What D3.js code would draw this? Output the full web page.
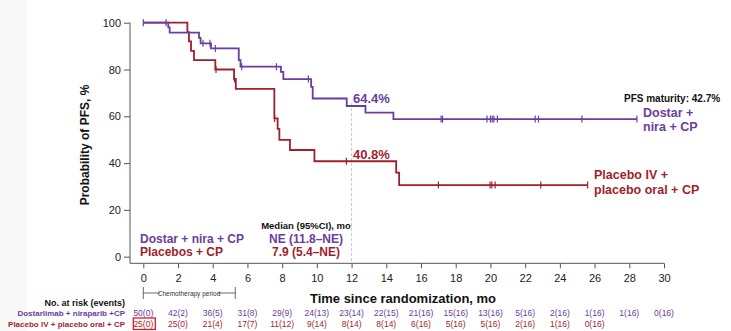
<!DOCTYPE html>
<html>
<head>
<meta charset="utf-8">
<script src="https://cdn.jsdelivr.net/npm/d3@7"></script>
<style>
  body { margin: 0; background: #fff; }
  svg { font-family: "Liberation Sans", Arial, sans-serif; }
</style>
</head>
<body>
<div id="chart"></div>
<script>
// Kaplan-Meier steps: [month, PFS %]
var dostarSteps = [[0,100],[1.44,98],[1.52,95.8],[3.21,93.5],[3.3,91.2],[3.9,89],[5.5,84],[5.6,81.2],
  [7.93,79],[8.07,75.9],[9.67,72.6],[9.76,67.6],[11.72,64.4],[12.8,61.6],[14.41,58.8]];
var dostarEnd = 28.44;
var dostarCensor = [0,1.31,3.44,3.84,4.15,5.67,7.67,9.51,17.16,17.24,19.8,20.0,20.1,20.2,20.4,22.58,22.77,25.27,28.44];

var placeboSteps = [[0,100],[2.54,96],[2.63,92],[2.75,88],[2.92,84],[4.15,80],[5.23,76],[5.33,71.7],
  [7.55,59.1],[7.74,54.6],[7.84,49.9],[8.45,45.6],[9.86,40.8],[14.57,35.9],[14.74,30.6]];
var placeboEnd = 25.6;
var placeboCensor = [4.19,5.25,7.57,11.7,17.0,19.98,20.08,20.27,22.9,25.6];

var xTicks = d3.range(0, 31, 2);
var yTicks = [0, 20, 40, 60, 80, 100];

var dostarRisk = ["50(0)","42(2)","36(5)","31(8)","29(9)","24(13)","23(14)","22(15)","21(16)","15(16)","13(16)","5(16)","2(16)","1(16)","1(16)","0(16)"];
var placeboRisk = ["25(0)","25(0)","21(4)","17(7)","11(12)","9(14)","8(14)","8(14)","6(16)","5(16)","5(16)","2(16)","1(16)","0(16)"];

var purple = "#6a3d9e", red = "#9e1f2e";

var W = 731, H = 331;
var svg = d3.select("#chart").append("svg").attr("width", W).attr("height", H);

// faint slide margin on the left
svg.append("rect").attr("x", 0).attr("y", 0).attr("width", 27).attr("height", H).attr("fill", "#f8f8f8");

var x = d3.scaleLinear().domain([0, 30]).range([143.3, 664]);
var y = d3.scaleLinear().domain([0, 100]).range([256.7, 22.7]);

// y axis
var yAxis = svg.append("g").attr("transform", "translate(130,0)")
  .call(d3.axisLeft(y).tickValues(yTicks).tickSize(6).tickSizeOuter(0));
yAxis.select(".domain").attr("d", "M0," + y(100) + "V263.3").attr("stroke", "#555");
yAxis.selectAll(".tick line").attr("stroke", "#555");
yAxis.selectAll(".tick text").attr("font-size", 11).attr("fill", "#222").attr("x", -9);

// x axis
var xAxis = svg.append("g").attr("transform", "translate(0,263.3)")
  .call(d3.axisBottom(x).tickValues(xTicks).tickSize(5).tickSizeOuter(0));
xAxis.select(".domain").attr("d", "M130,0H" + x(30)).attr("stroke", "#555");
xAxis.selectAll(".tick line").attr("stroke", "#555");
xAxis.selectAll(".tick text").attr("font-size", 11).attr("fill", "#222").attr("dy", "0.95em");

// dashed reference at 12 months
svg.append("line").attr("x1", x(12)).attr("x2", x(12)).attr("y1", 103).attr("y2", 263)
  .attr("stroke", "#c8c8c8").attr("stroke-dasharray", "3,2").attr("stroke-width", 1);

function stepValue(steps, t) {
  var v = steps[0][1];
  steps.forEach(function(s) { if (s[0] <= t) v = s[1]; });
  return v;
}

function drawCurve(steps, end, censor, color) {
  var pts = steps.concat([[end, steps[steps.length - 1][1]]]);
  var line = d3.line().curve(d3.curveStepAfter)
    .x(function(d) { return x(d[0]); })
    .y(function(d) { return y(d[1]); });
  svg.append("path").datum(pts).attr("d", line)
    .attr("fill", "none").attr("stroke", color).attr("stroke-width", 1.8);
  svg.append("g").selectAll("line").data(censor).enter().append("line")
    .attr("x1", function(d) { return x(d); })
    .attr("x2", function(d) { return x(d); })
    .attr("y1", function(d) { return y(stepValue(steps, d)) - 3.5; })
    .attr("y2", function(d) { return y(stepValue(steps, d)) + 3.5; })
    .attr("stroke", color).attr("stroke-width", 1.2);
}

drawCurve(placeboSteps, placeboEnd, placeboCensor, red);
drawCurve(dostarSteps, dostarEnd, dostarCensor, purple);

// y label
svg.append("text").attr("transform", "translate(89,145) rotate(-90)")
  .attr("text-anchor", "middle").attr("font-size", 12).attr("font-weight", "bold")
  .attr("fill", "#111").text("Probability of PFS, %");

// x label
svg.append("text").attr("x", 403).attr("y", 303).attr("text-anchor", "middle")
  .attr("font-size", 13).attr("font-weight", "bold").attr("fill", "#111")
  .text("Time since randomization, mo");

// 12-month rates
svg.append("text").attr("x", 353).attr("y", 103).attr("font-size", 13).attr("font-weight", "bold")
  .attr("fill", purple).text("64.4%");
svg.append("text").attr("x", 353).attr("y", 159).attr("font-size", 13).attr("font-weight", "bold")
  .attr("fill", red).text("40.8%");

// right side labels
svg.append("text").attr("x", 624).attr("y", 102).attr("font-size", 10).attr("font-weight", "bold")
  .attr("fill", "#111").text("PFS maturity: 42.7%");
svg.append("text").attr("x", 643).attr("y", 117).attr("font-size", 12.5).attr("font-weight", "bold")
  .attr("fill", purple).text("Dostar +");
svg.append("text").attr("x", 643).attr("y", 131).attr("font-size", 12.5).attr("font-weight", "bold")
  .attr("fill", purple).text("nira + CP");
svg.append("text").attr("x", 594).attr("y", 179).attr("font-size", 12.5).attr("font-weight", "bold")
  .attr("fill", red).text("Placebo IV +");
svg.append("text").attr("x", 594).attr("y", 194).attr("font-size", 12.5).attr("font-weight", "bold")
  .attr("fill", red).text("placebo oral + CP");

// legend and medians
svg.append("text").attr("x", 140).attr("y", 243).attr("font-size", 12).attr("font-weight", "bold")
  .attr("fill", purple).text("Dostar + nira + CP");
svg.append("text").attr("x", 140).attr("y", 256).attr("font-size", 12).attr("font-weight", "bold")
  .attr("fill", red).text("Placebos + CP");
svg.append("text").attr("x", 306).attr("y", 229).attr("text-anchor", "middle").attr("font-size", 9.5)
  .attr("font-weight", "bold").attr("fill", "#111").text("Median (95%CI), mo");
svg.append("text").attr("x", 306).attr("y", 243).attr("text-anchor", "middle").attr("font-size", 12)
  .attr("font-weight", "bold").attr("fill", purple).text("NE (11.8\u2013NE)");
svg.append("text").attr("x", 306).attr("y", 256).attr("text-anchor", "middle").attr("font-size", 12)
  .attr("font-weight", "bold").attr("fill", red).text("7.9 (5.4\u2013NE)");

// chemotherapy period bracket
var chemo = svg.append("g").attr("stroke", "#444").attr("stroke-width", 0.8);
chemo.append("line").attr("x1", x(0)).attr("x2", x(0)).attr("y1", 287).attr("y2", 299);
chemo.append("line").attr("x1", x(5.3)).attr("x2", x(5.3)).attr("y1", 287).attr("y2", 299);
chemo.append("line").attr("x1", x(0)).attr("x2", 160).attr("y1", 293).attr("y2", 293);
chemo.append("line").attr("x1", 218).attr("x2", x(5.3)).attr("y1", 293).attr("y2", 293);
svg.append("text").attr("x", 189).attr("y", 295.5).attr("text-anchor", "middle").attr("font-size", 6.5)
  .attr("fill", "#333").text("Chemotherapy period");

// number at risk
svg.append("text").attr("x", 125).attr("y", 306).attr("text-anchor", "end").attr("font-size", 9)
  .attr("font-weight", "bold").attr("fill", "#111").text("No. at risk (events)");
svg.append("text").attr("x", 125).attr("y", 316).attr("text-anchor", "end").attr("font-size", 8)
  .attr("font-weight", "bold").attr("fill", purple).text("Dostarlimab + niraparib +CP");
svg.append("text").attr("x", 125).attr("y", 326.5).attr("text-anchor", "end").attr("font-size", 8)
  .attr("font-weight", "bold").attr("fill", red).text("Placebo IV + placebo oral + CP");

svg.append("g").selectAll("text").data(dostarRisk).enter().append("text")
  .attr("x", function(d, i) { return x(xTicks[i]); }).attr("y", 316)
  .attr("text-anchor", "middle").attr("font-size", 8.5).attr("fill", purple)
  .text(function(d) { return d; });
svg.append("g").selectAll("text").data(placeboRisk).enter().append("text")
  .attr("x", function(d, i) { return x(xTicks[i]); }).attr("y", 326.5)
  .attr("text-anchor", "middle").attr("font-size", 8.5).attr("fill", red)
  .text(function(d) { return d; });

// highlight box around first placebo count
svg.append("rect").attr("x", x(0) - 10).attr("y", 318).attr("width", 22).attr("height", 11.5)
  .attr("fill", "none").attr("stroke", "#e0191e").attr("stroke-width", 1.3);
</script>
</body>
</html>
